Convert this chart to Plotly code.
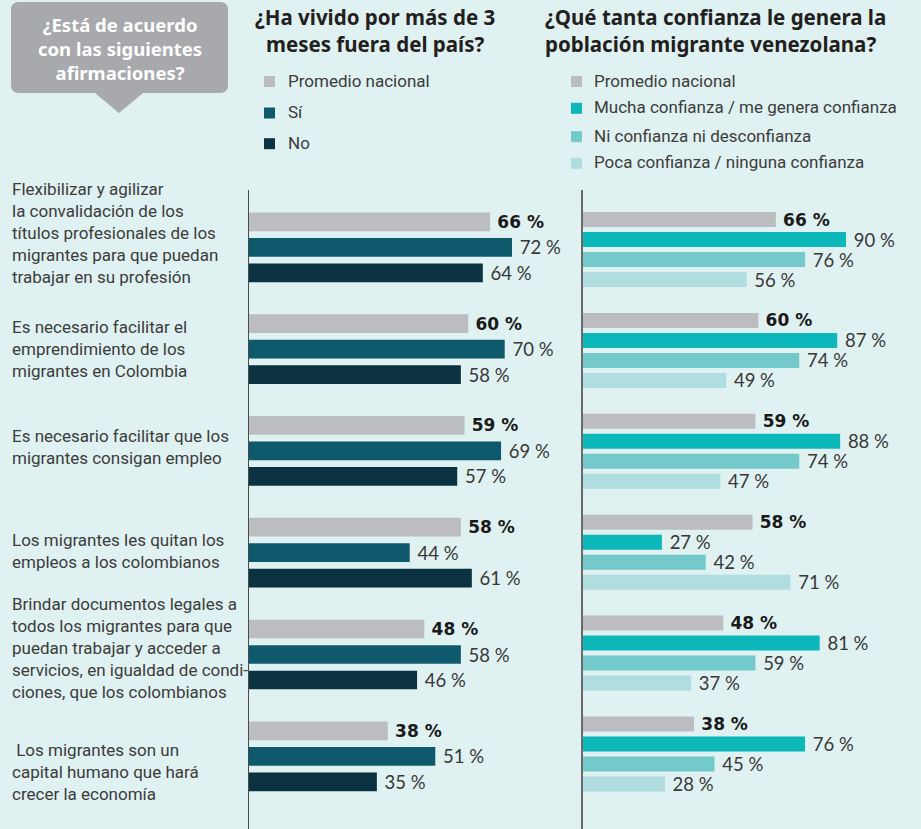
import plotly.graph_objects as go

W, H = 921, 829

# ---------------- data ----------------
statements = [
    "Flexibilizar y agilizar\nla convalidación de los\ntítulos profesionales de los\nmigrantes para que puedan\ntrabajar en su profesión",
    "Es necesario facilitar el\nemprendimiento de los\nmigrantes en Colombia",
    "Es necesario facilitar que los\nmigrantes consigan empleo",
    "Los migrantes les quitan los\nempleos a los colombianos",
    "Brindar documentos legales a\ntodos los migrantes para que\npuedan trabajar y acceder a\nservicios, en igualdad de condi-\nciones, que los colombianos",
    "\u00a0Los migrantes son un\ncapital humano que hará\ncrecer la economía",
]

left_title = ["¿Ha vivido por más de 3", "meses fuera del país?"]
right_title = ["¿Qué tanta confianza le genera la", "población migrante venezolana?"]
box_title = ["¿Está de acuerdo", "con las siguientes", "afirmaciones?"]

left_series = ["Promedio nacional", "Sí", "No"]
promedio = [66, 60, 59, 58, 48, 38]
si = [72, 70, 69, 44, 58, 51]
no = [64, 58, 57, 61, 46, 35]

right_series = ["Promedio nacional", "Mucha confianza / me genera confianza",
                "Ni confianza ni desconfianza", "Poca confianza / ninguna confianza"]
mucha = [90, 87, 88, 27, 81, 76]
ni = [76, 74, 74, 42, 59, 45]
poca = [56, 49, 47, 71, 37, 28]

# ---------------- styles ----------------
BG = "#dff1f0"
GREY = "#bcbdc1"
left_colors = [GREY, "#0f596c", "#0b3240"]
right_colors = [GREY, "#0db8bb", "#74c9cb", "#b0dde0"]
TXT = "#3c3c3c"
TITLE = "#231f20"


def px(x):
    return x / W


def py(y):
    return 1 - y / H


fig = go.Figure()

# bar geometry in pixels -> data units
L_PITCH_G, L_PITCH_B, L_BAR = 101.8, 25.5, 18.7
R_PITCH_G, R_PITCH_B, R_BAR = 100.9, 20.0, 15.0


def add_group(series_vals, names, colors, xa, ya, pitch_g, pitch_b, bar):
    n = len(series_vals)
    first = -(n * pitch_b - (pitch_b - bar)) / 2.0
    for k, (vals, name, col) in enumerate(zip(series_vals, names, colors)):
        bold = (k == 0)
        if bold:
            tf = dict(family="DejaVu Sans", size=17, color="#1a1a1a", weight="bold")
            tt = "\u2005%{x} %"
        else:
            tf = dict(family="Lato", size=18.5, color="#383838", weight=400)
            tt = "\u00a0%{x} %"
        fig.add_trace(go.Bar(
            orientation="h", x=vals, y=statements, name=name,
            xaxis=xa, yaxis=ya,
            offset=(first + k * pitch_b) / pitch_g, width=bar / pitch_g,
            marker=dict(color=col, line=dict(width=0)),
            texttemplate=tt, textposition="outside",
            constraintext="none", cliponaxis=False,
            textfont=tf,
            showlegend=False, hoverinfo="skip",
        ))


add_group([promedio, si, no], left_series, left_colors, "x", "y",
          L_PITCH_G, L_PITCH_B, L_BAR)
add_group([promedio, mucha, ni, poca], right_series, right_colors, "x2", "y2",
          R_PITCH_G, R_PITCH_B, R_BAR)

ydom = [0, (H - 190) / H]
L_X0, L_X1 = 249, 575
R_X0, R_X1 = 583, 921
L_SCALE, R_SCALE = 3.653, 2.922
L_C0, R_C0 = 247.3, 249.5

fig.update_layout(
    width=W, height=H,
    margin=dict(l=0, r=0, t=0, b=0),
    paper_bgcolor=BG, plot_bgcolor=BG,
    barmode="overlay",
    showlegend=False,
    xaxis=dict(domain=[px(L_X0), px(L_X1)], range=[0, (L_X1 - L_X0) / L_SCALE],
               visible=False, fixedrange=True),
    yaxis=dict(domain=ydom, type="category", categoryarray=statements,
               range=[5 + (H - (L_C0 + 5 * L_PITCH_G)) / L_PITCH_G, -(L_C0 - 190) / L_PITCH_G],
               showticklabels=False, showgrid=False, zeroline=False, ticks="",
               showline=True, linecolor="#4a4a4a", linewidth=1.3, fixedrange=True),
    xaxis2=dict(domain=[px(R_X0), px(R_X1)], range=[0, (R_X1 - R_X0) / R_SCALE],
                visible=False, fixedrange=True),
    yaxis2=dict(domain=ydom, type="category", categoryarray=statements, anchor="x2",
                range=[5 + (H - (R_C0 + 5 * R_PITCH_G)) / R_PITCH_G, -(R_C0 - 190) / R_PITCH_G],
                showticklabels=False, showgrid=False, zeroline=False, ticks="",
                showline=True, linecolor="#6a6a6a", linewidth=2, fixedrange=True),
)

shapes = []
annotations = []

# callout box
x0, x1, y0, y1, r = 11, 228, 2, 93, 8
pts = [("M", [(x0 + r, y0)]), ("L", [(x1 - r, y0)]), ("Q", [(x1, y0), (x1, y0 + r)]),
       ("L", [(x1, y1 - r)]), ("Q", [(x1, y1), (x1 - r, y1)]),
       ("L", [(143, y1)]), ("L", [(119, 113)]), ("L", [(95, y1)]),
       ("L", [(x0 + r, y1)]), ("Q", [(x0, y1), (x0, y1 - r)]),
       ("L", [(x0, y0 + r)]), ("Q", [(x0, y0), (x0 + r, y0)])]
path = " ".join(cmd + " " + " ".join(f"{px(a):.5f},{py(b):.5f}" for a, b in p) for cmd, p in pts) + " Z"
shapes.append(dict(type="path", xref="paper", yref="paper", path=path,
                   fillcolor="#a7a9ac", line=dict(width=0), layer="below"))
annotations.append(dict(x=px(119.5), y=py(48.8), xref="paper", yref="paper",
                        text="<br>".join(f"<b>{l}</b>" for l in box_title),
                        showarrow=False, xanchor="center", yanchor="middle", align="center",
                        font=dict(family="Noto Sans", size=18.5, color="white")))

# titles
annotations.append(dict(x=px(375), y=py(30), xref="paper", yref="paper",
                        text="<br>".join(f"<b>{l}</b>" for l in left_title),
                        showarrow=False, xanchor="center", yanchor="middle", align="center",
                        font=dict(family="Noto Sans", size=20.5, color=TITLE)))
annotations.append(dict(x=px(543), y=py(30), xref="paper", yref="paper",
                        text="<br>".join(f"<b>{l}</b>" for l in right_title),
                        showarrow=False, xanchor="left", yanchor="middle", align="left",
                        font=dict(family="Noto Sans", size=20.5, color=TITLE)))


# legends (drawn from series names and colours)
def legend(names, colors, sq_x, txt_x, ys):
    for name, col, yc in zip(names, colors, ys):
        shapes.append(dict(type="rect", xref="paper", yref="paper",
                           x0=px(sq_x), x1=px(sq_x + 11), y0=py(yc - 5.5), y1=py(yc + 5.5),
                           fillcolor=col, line=dict(width=0)))
        annotations.append(dict(x=px(txt_x), y=py(yc - 1), xref="paper", yref="paper",
                                text=name, showarrow=False, xanchor="left", yanchor="middle",
                                font=dict(family="Roboto", size=17, color=TXT)))


legend(left_series, left_colors, 264, 285.7, [81.5, 113, 143.7])
legend(right_series, right_colors, 571, 592.3, [81.5, 108.3, 136.7, 163.3])

# statement labels
label_shift = [14, 0, 4, 2, 7, -16]
for i, (s, sh) in enumerate(zip(statements, label_shift)):
    annotations.append(dict(x=px(10), y=i, xref="paper", yref="y", yshift=sh,
                            text=s.replace("\n", "<br>"), showarrow=False,
                            xanchor="left", yanchor="middle", align="left",
                            font=dict(family="Roboto", size=17, color=TXT)))

fig.update_layout(shapes=shapes, annotations=annotations)

fig.write_html("out.html", config={"displayModeBar": False},
               post_script="document.body.style.margin='0';document.body.style.overflow='hidden';")
